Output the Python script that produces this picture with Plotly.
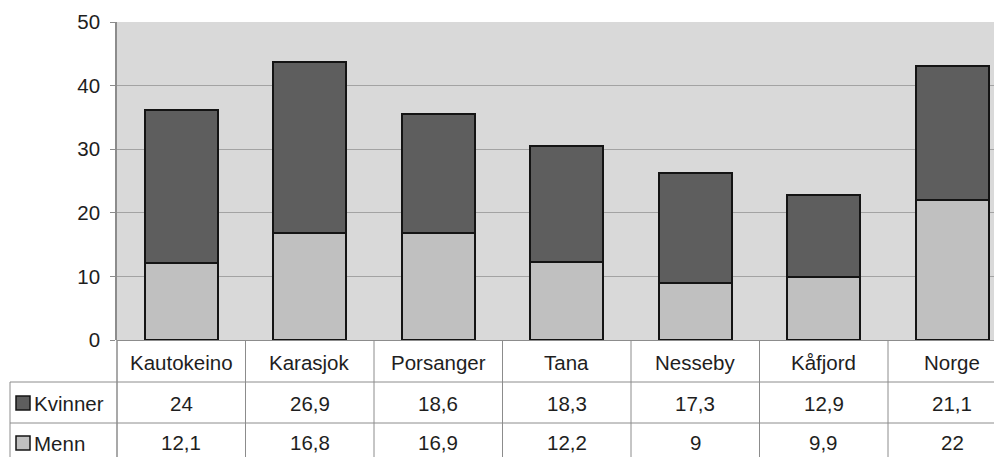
import plotly.graph_objects as go

categories = ["Kautokeino", "Karasjok", "Porsanger", "Tana", "Nesseby", "Kåfjord", "Norge"]
kvinner = [24, 26.9, 18.6, 18.3, 17.3, 12.9, 21.1]
menn = [12.1, 16.8, 16.9, 12.2, 9, 9.9, 22]
series_names = ["Kvinner", "Menn"]
y_ticks = [0, 10, 20, 30, 40, 50]

OFF = 8  # page body margin
PAGE_W, PAGE_H = 1002, 457
PLOT_L, PLOT_T, PLOT_B = 117, 22, 340  # page px of plot area
W, H = PAGE_W - OFF, PAGE_H - OFF
L, T = PLOT_L - OFF, PLOT_T - OFF
B = H - (PLOT_B - OFF)
R = 0
PW, PH = W - L - R, H - T - B
CAT_W = 128.5  # px per category


def px_x(px):
    return (px - PLOT_L) / PW


def px_y(py):
    return (PLOT_B - py) / PH


def fmt(v):
    if float(v).is_integer():
        return str(int(v))
    return str(v).replace(".", ",")


FONT = "Liberation Sans, Arial, sans-serif"
TXT = "#1e1e1e"
LINE = "#8c8c8c"
DARK = "#5e5e5e"
LIGHT = "#c0c0c0"
FS = 20.5

x_idx = list(range(len(categories)))

fig = go.Figure()
fig.add_bar(x=x_idx, y=menn, name="Menn", width=0.57,
            marker=dict(color=LIGHT, line=dict(color="#141414", width=2)))
fig.add_bar(x=x_idx, y=kvinner, name="Kvinner", width=0.57,
            marker=dict(color=DARK, line=dict(color="#141414", width=2)))

shapes = []
annotations = []

y_top = px_y(340)
y_r1 = px_y(382)
y_r2 = px_y(423)
y_bot = px_y(460)
x_left = px_x(10)

for k in range(1, len(categories)):
    shapes.append(dict(type="line", xref="x", yref="paper", x0=k - 0.5, x1=k - 0.5,
                       y0=y_top, y1=y_bot, line=dict(color=LINE, width=1)))
shapes.append(dict(type="line", xref="paper", yref="paper", x0=0, x1=0,
                   y0=y_top, y1=y_bot, line=dict(color=LINE, width=1.5)))
shapes.append(dict(type="line", xref="paper", yref="paper", x0=x_left, x1=x_left,
                   y0=y_r1, y1=y_bot, line=dict(color=LINE, width=1)))
for yy in (y_r1, y_r2):
    shapes.append(dict(type="line", xref="paper", yref="paper", x0=x_left, x1=1,
                       y0=yy, y1=yy, line=dict(color=LINE, width=1)))

for (cy, col) in ((403, DARK), (443, LIGHT)):
    shapes.append(dict(type="rect", xref="paper", yref="paper",
                       x0=px_x(16), x1=px_x(30), y0=px_y(cy - 7), y1=px_y(cy + 7),
                       fillcolor=col, line=dict(color="#141414", width=1.5)))
for (cy, name) in ((403, series_names[0]), (443, series_names[1])):
    annotations.append(dict(xref="paper", yref="paper", x=px_x(32), y=px_y(cy),
                            text=name, showarrow=False, xanchor="left", yanchor="middle",
                            font=dict(size=FS, color=TXT, family=FONT)))

for i, c in enumerate(categories):
    annotations.append(dict(xref="x", yref="paper", x=i, y=px_y(362), text=c,
                            showarrow=False, yanchor="middle",
                            font=dict(size=FS, color=TXT, family=FONT)))
    annotations.append(dict(xref="x", yref="paper", x=i, y=px_y(403), text=fmt(kvinner[i]),
                            showarrow=False, yanchor="middle",
                            font=dict(size=FS, color=TXT, family=FONT)))
    annotations.append(dict(xref="x", yref="paper", x=i, y=px_y(442), text=fmt(menn[i]),
                            showarrow=False, yanchor="middle",
                            font=dict(size=FS, color=TXT, family=FONT)))

fig.update_layout(
    width=W, height=H,
    margin=dict(l=L, r=R, t=T, b=B, pad=0),
    barmode="stack",
    showlegend=False,
    paper_bgcolor="white",
    plot_bgcolor="#d9d9d9",
    shapes=shapes,
    annotations=annotations,
)
fig.update_xaxes(range=[-0.5, -0.5 + PW / CAT_W], showticklabels=False, showgrid=False,
                 zeroline=False, showline=False, ticks="")
fig.update_yaxes(range=[0, 50], tickvals=y_ticks, ticktext=[str(t) for t in y_ticks],
                 showgrid=True, gridcolor="#a3a3a3", gridwidth=1,
                 zeroline=True, zerolinecolor=LINE, zerolinewidth=1,
                 showline=True, linecolor=LINE, linewidth=1.5,
                 ticks="outside", ticklen=5, tickcolor=LINE, ticklabelstandoff=6,
                 tickfont=dict(size=FS, color=TXT, family=FONT))

fig.write_html("out.html")
